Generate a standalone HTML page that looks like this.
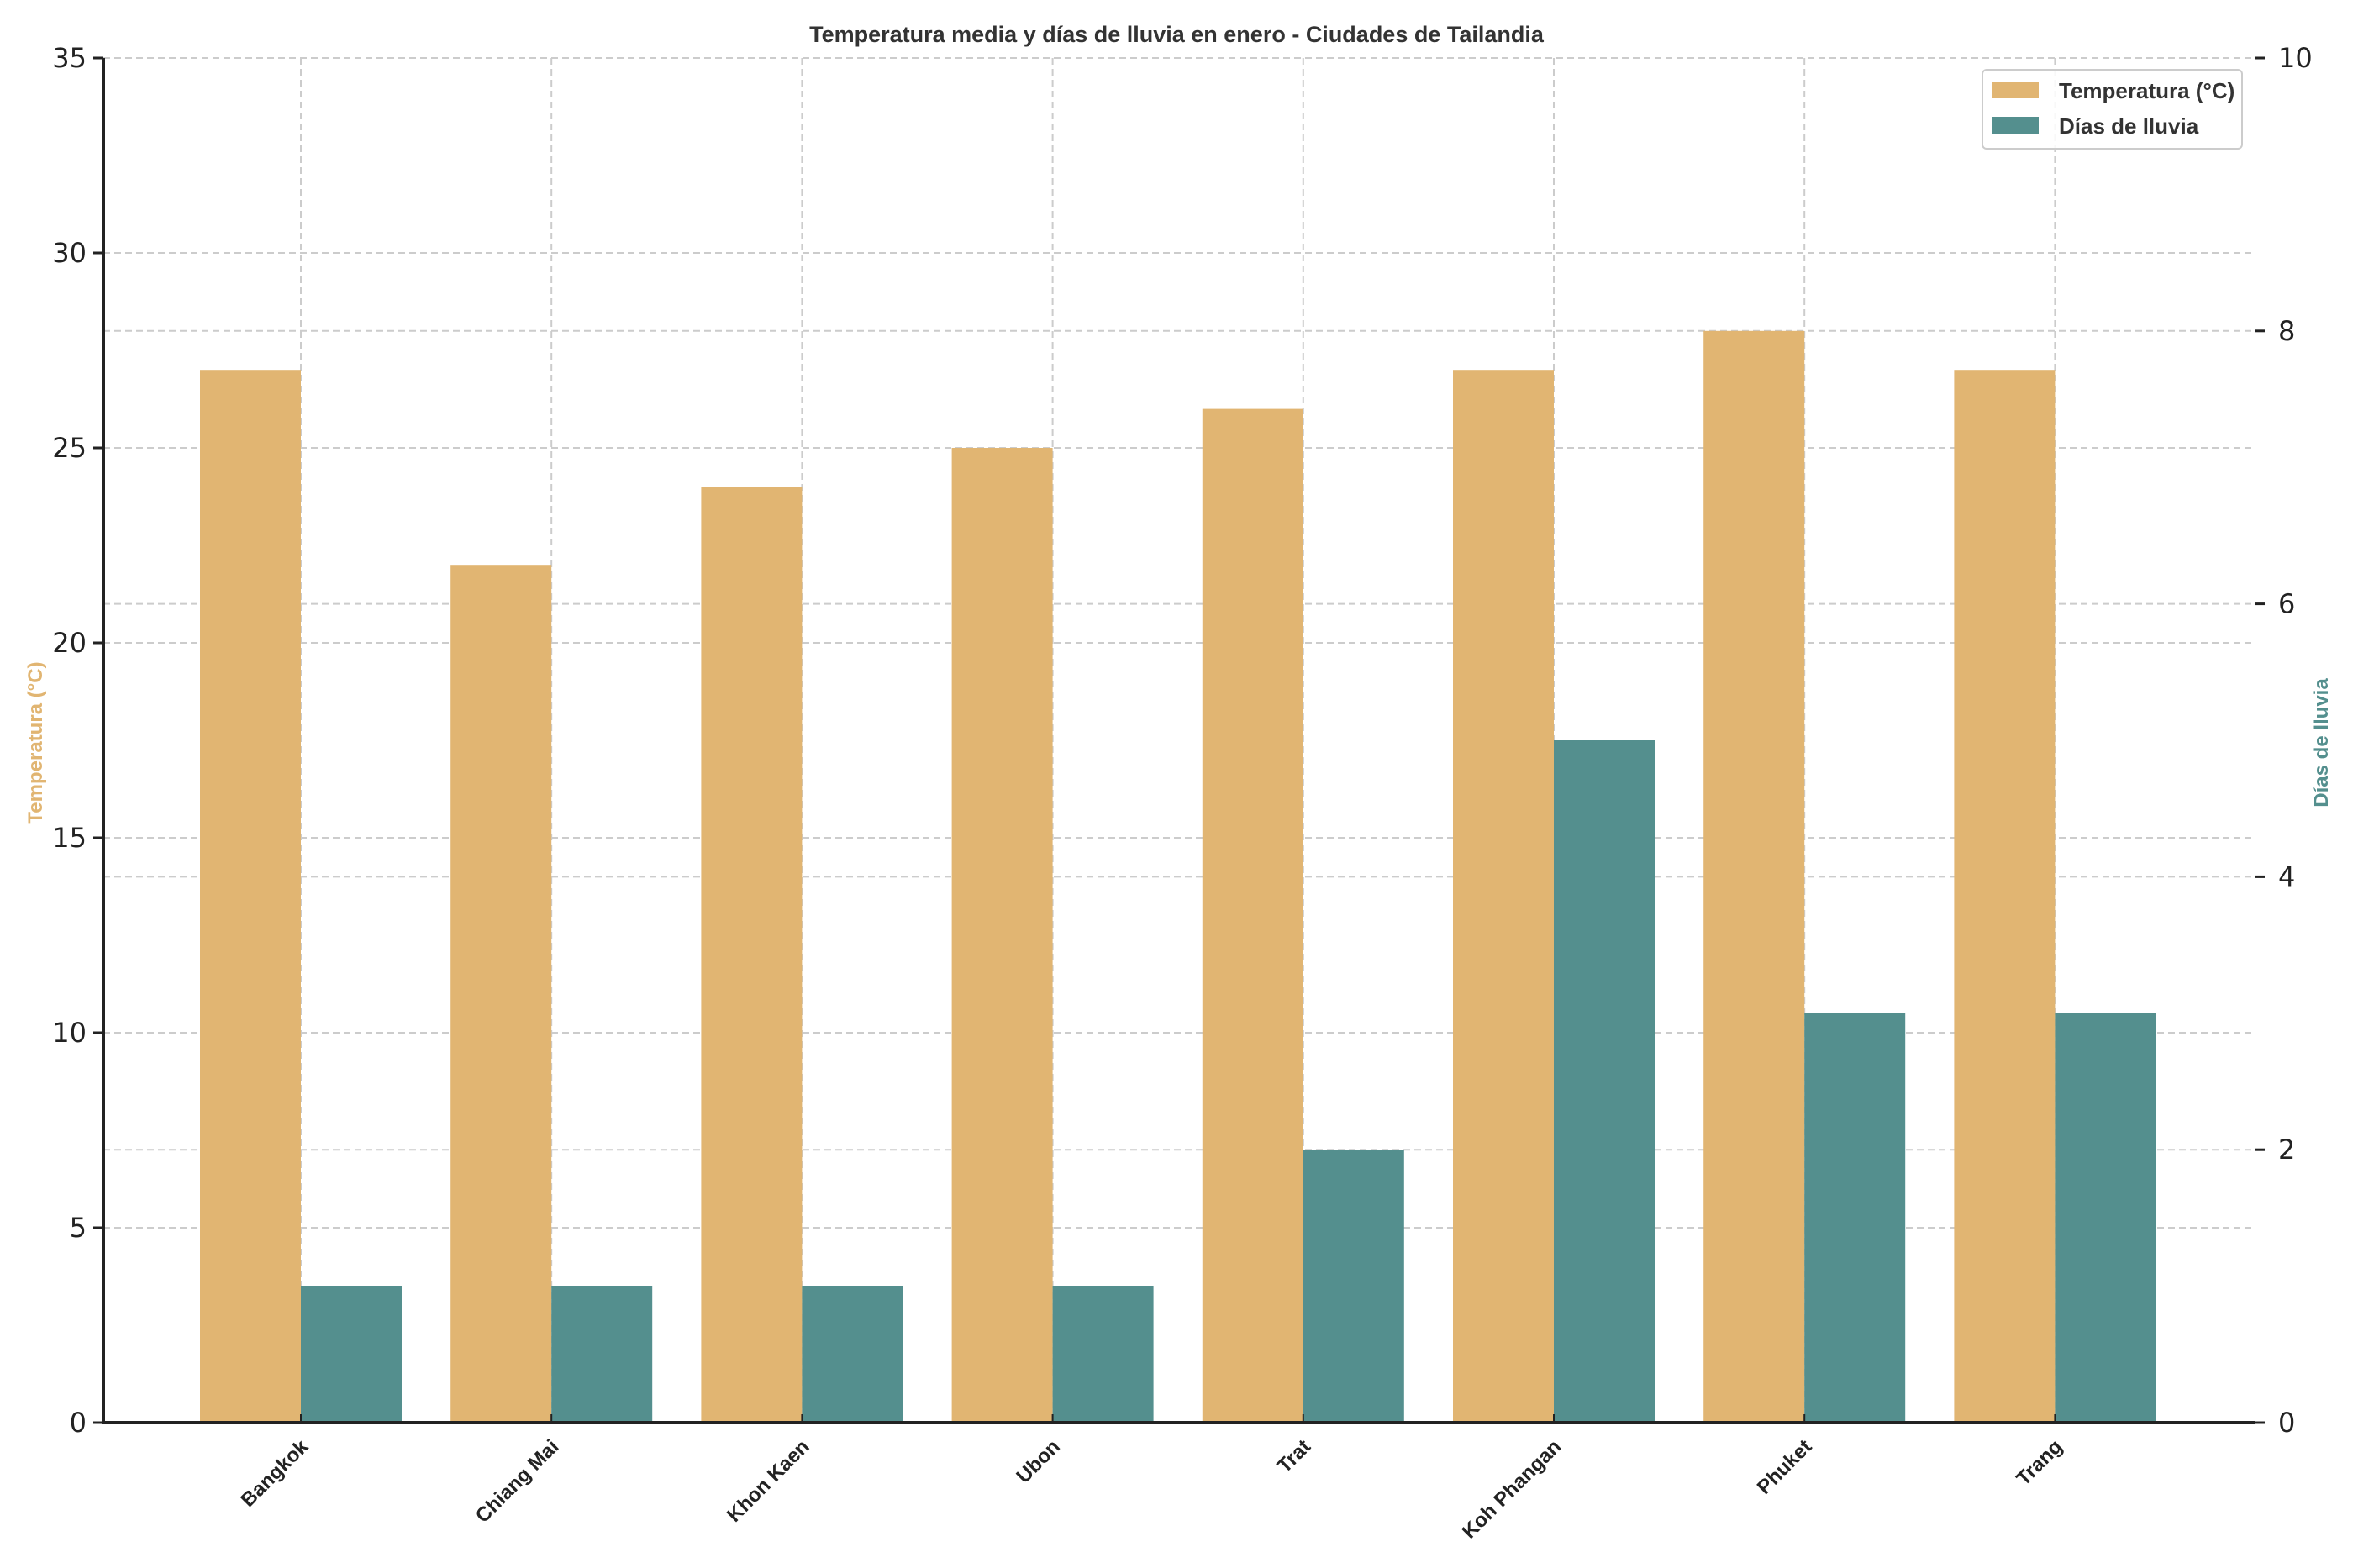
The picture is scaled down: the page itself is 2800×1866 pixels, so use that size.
<!DOCTYPE html>
<html><head><meta charset="utf-8"><style>body{margin:0;background:#fff}svg{display:block}</style></head>
<body>
<svg id="chart" width="2800" height="1866" xmlns="http://www.w3.org/2000/svg" font-family="'Liberation Sans', 'DejaVu Sans', sans-serif">
<rect width="2800" height="1866" fill="#fff"/>
<g id="grid"></g><g id="bars"></g><g id="axes"></g>
<text x="1400" y="50" text-anchor="middle" font-size="27" font-weight="bold" fill="#333">Temperatura media y días de lluvia en enero - Ciudades de Tailandia</text>
<text transform="translate(50,884) rotate(-90)" text-anchor="middle" font-size="24" font-weight="bold" fill="#e1b572">Temperatura (°C)</text>
<text transform="translate(2770,884) rotate(-90)" text-anchor="middle" font-size="24" font-weight="bold" fill="#548f8e">Días de lluvia</text>
<g>
<rect x="2359" y="83" width="309" height="94" rx="5" fill="#fff" fill-opacity="0.85" stroke="#ccc" stroke-width="2"/>
<rect x="2370" y="97" width="56" height="20" fill="#e1b572"/>
<text x="2450" y="117" font-size="26" font-weight="bold" fill="#333">Temperatura (°C)</text>
<rect x="2370" y="139" width="56" height="20" fill="#548f8e"/>
<text x="2450" y="159" font-size="26" font-weight="bold" fill="#333">Días de lluvia</text>
</g>
</svg>
<script>
const categories = ["Bangkok","Chiang Mai","Khon Kaen","Ubon","Trat","Koh Phangan","Phuket","Trang"];
const temperatura = [27,22,24,25,26,27,28,27];
const diasLluvia = [1,1,1,1,2,5,3,3];
const leftTicks = [0,5,10,15,20,25,30,35];
const rightTicks = [0,2,4,6,8,10];

const NS="http://www.w3.org/2000/svg";
const L=123,R=2683,T=69,B=1693;
const xC=i=>358+i*298.2;
const yL=v=>B-(v/35)*(B-T);
const yR=v=>B-(v/10)*(B-T);
const bw=120;
function mk(tag,attrs,parent){const e=document.createElementNS(NS,tag);for(const k in attrs)e.setAttribute(k,attrs[k]);parent.appendChild(e);return e;}
const grid=document.getElementById('grid'),bars=document.getElementById('bars'),axes=document.getElementById('axes');
leftTicks.forEach(v=>{
  const g=mk('line',{x1:L,x2:R,y1:yL(v),y2:yL(v),stroke:'#ccc','stroke-width':2,'stroke-dasharray':'8,5'},grid);
  
  
  const t=mk('line',{x1:L-12,x2:L,y1:yL(v),y2:yL(v),stroke:'#222','stroke-width':3},axes);
  
  
  const tx=mk('text',{x:L-20,y:yL(v)+11,'text-anchor':'end','font-size':32,fill:'#222','font-family':"'DejaVu Sans', sans-serif"},axes);
  tx.textContent=v;
  
  
});
rightTicks.forEach(v=>{
  const g=mk('line',{x1:L,x2:R,y1:yR(v),y2:yR(v),stroke:'#ccc','stroke-width':2,'stroke-dasharray':'8,5'},grid);
  
  
  const t=mk('line',{x1:R,x2:R+12,y1:yR(v),y2:yR(v),stroke:'#222','stroke-width':3},axes);
  
  
  const tx=mk('text',{x:R+28,y:yR(v)+11,'font-size':32,fill:'#222','font-family':"'DejaVu Sans', sans-serif"},axes);
  tx.textContent=v;
  
  
});
categories.forEach((c,i)=>{
  const x=xC(i);
  const g=mk('line',{x1:x,x2:x,y1:T,y2:B,stroke:'#ccc','stroke-width':2,'stroke-dasharray':'8,5'},grid);
  
  
  const b1=mk('rect',{x:x-bw,y:yL(temperatura[i]),width:bw,height:B-yL(temperatura[i]),fill:'#e1b572'},bars);
  
  
  const b2=mk('rect',{x:x,y:yR(diasLluvia[i]),width:bw,height:B-yR(diasLluvia[i]),fill:'#548f8e'},bars);
  
  
  const t=mk('line',{x1:x,x2:x,y1:B,y2:B-10,stroke:'#222','stroke-width':2},axes);
  
  
  const tx=mk('text',{transform:`translate(${x+10},${B+30}) rotate(-45)`,'text-anchor':'end','font-size':24,'font-weight':'bold',fill:'#222'},axes);
  tx.textContent=c;
  
  
});
const ax=mk('path',{d:`M${L},${T} V${B} H${R}`,fill:'none',stroke:'#222','stroke-width':4},axes);


</script>
</body></html>
